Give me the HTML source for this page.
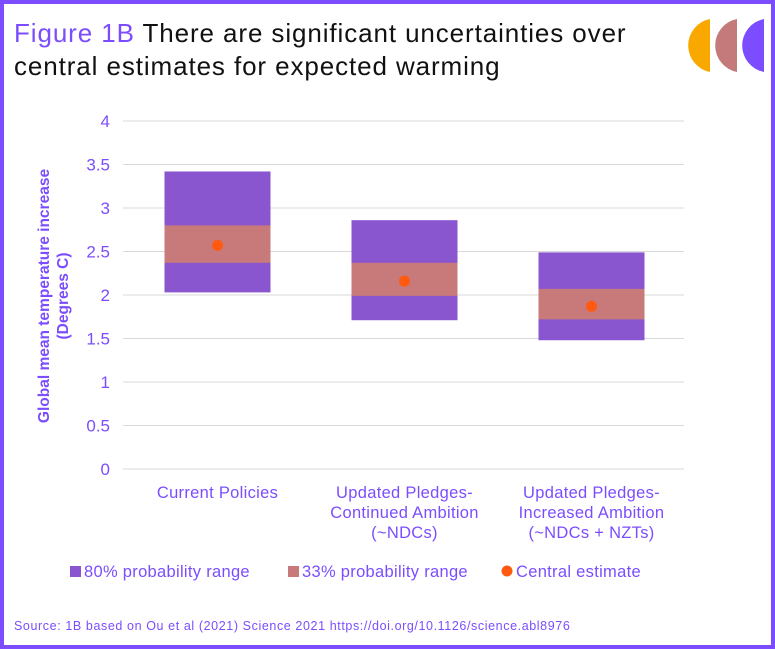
<!DOCTYPE html>
<html><head><meta charset="utf-8"><style>
body{margin:0;background:#fff;}
#wrap{position:absolute;left:0;top:0;width:767px;height:641px;border:4px solid #7b4dff;background:#fff;font-family:"Liberation Sans",sans-serif;}
#title{position:absolute;left:10px;top:13px;font-size:26px;line-height:33px;color:#111;letter-spacing:0.9px;}
#title span{color:#7b4dff;}
</style></head><body>
<div id="wrap">
<div id="title"><span>Figure 1B</span> There are significant uncertainties over<br>central estimates for expected warming</div>
<svg width="767" height="641" style="position:absolute;left:0;top:0" id="chart">
<g>
<path d="M706 15 A27 27 0 0 0 706 68 Z" fill="#f9a800"/>
<path d="M733 15 A27 27 0 0 0 733 68 Z" fill="#c47a7a"/>
<path d="M760 15 A27 27 0 0 0 760 68 Z" fill="#7b4dff"/>
</g>
<text transform="translate(45,292) rotate(-90)" text-anchor="middle" font-size="15.5" font-weight="bold" fill="#7b4dff">Global mean temperature increase</text>
<text transform="translate(64,292) rotate(-90)" text-anchor="middle" font-size="15.5" font-weight="bold" fill="#7b4dff">(Degrees C)</text>
<g id="plot"></g>
<g font-size="16.5" letter-spacing="0.3">
<rect x="66" y="562" width="11" height="11" fill="#8a56d0"/>
<text x="80" y="573" fill="#7b4dff">80% probability range</text>
<rect x="284" y="562" width="11" height="11" fill="#c87a7a"/>
<text x="298" y="573" fill="#7b4dff">33% probability range</text>
<circle cx="503" cy="567" r="5.5" fill="#ff5a10"/>
<text x="512" y="573" fill="#7b4dff">Central estimate</text>
</g>
<text x="10" y="626" font-size="12.5" letter-spacing="0.6" fill="#7b4dff">Source: 1B based on Ou et al (2021) Science 2021 https://doi.org/10.1126/science.abl8976</text>
</svg>
</div>
<script>
const categories=[["Current Policies"],["Updated Pledges-","Continued Ambition","(~NDCs)"],["Updated Pledges-","Increased Ambition","(~NDCs + NZTs)"]];
const low80=[2.03,1.71,1.48];
const high80=[3.42,2.86,2.49];
const low33=[2.37,1.99,1.72];
const high33=[2.80,2.37,2.07];
const central=[2.57,2.16,1.87];
const ticks=[0,0.5,1,1.5,2,2.5,3,3.5,4];
const NS="http://www.w3.org/2000/svg";
const g=document.getElementById('plot');
const y0=465,yScale=87,xStart=120,band=187,barW=106;
const y=v=>y0-v*yScale;
const xc=i=>xStart+band*(i+0.5);
function mk(t,a){const e=document.createElementNS(NS,t);for(const k in a)e.setAttribute(k,a[k]);g.appendChild(e);return e;}
ticks.forEach(t=>{
 const l=mk('line',{x1:119,x2:680,y1:y(t),y2:y(t),stroke:'#d9d9d9','stroke-width':1});
 
 
 const e=mk('text',{x:106,y:y(t)+6,'text-anchor':'end','font-size':17,fill:'#7b4dff'});e.textContent=String(t);
 
 });
categories.forEach((c,i)=>{
 let r=mk('rect',{x:xc(i)-barW/2,y:y(high80[i]),width:barW,height:y(low80[i])-y(high80[i]),fill:'#8a56d0'});
 
 
 r=mk('rect',{x:xc(i)-barW/2,y:y(high33[i]),width:barW,height:y(low33[i])-y(high33[i]),fill:'#c87a7a'});
 
 
 r=mk('circle',{cx:xc(i),cy:y(central[i]),r:5.5,fill:'#ff5a10'});
 
 
 c.forEach((line,j)=>{const t=mk('text',{x:xc(i),y:494+j*20,'text-anchor':'middle','font-size':16.5,'letter-spacing':0.3,fill:'#7b4dff'});t.textContent=line;
 
 });
});
</script>
</body></html>
